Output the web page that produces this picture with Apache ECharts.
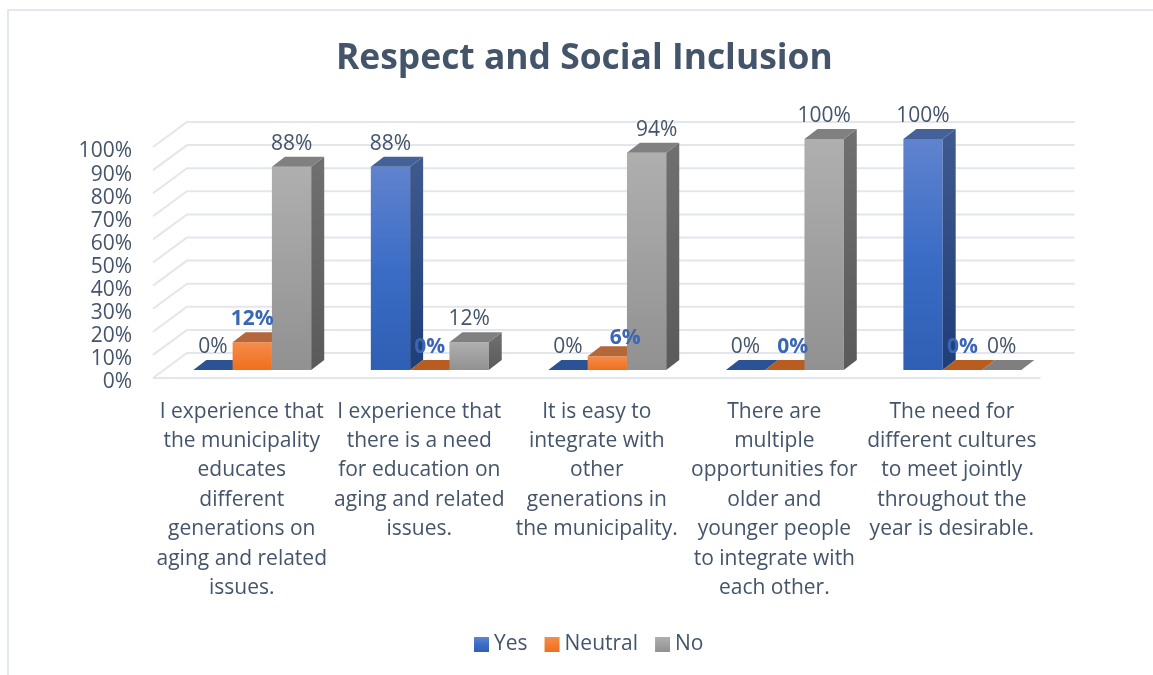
<!DOCTYPE html>
<html><head><meta charset="utf-8">
<style>html,body{margin:0;padding:0;background:#fff}#c{width:1153px;height:675px}</style>
<script src="https://cdn.jsdelivr.net/npm/echarts@6/dist/echarts.min.js"></script>
</head><body><div id="c"></div>
<script>
const categories = [
  "I experience that\nthe municipality\neducates\ndifferent\ngenerations on\naging and related\nissues.",
  "I experience that\nthere is a need\nfor education on\naging and related\nissues.",
  "It is easy to\nintegrate with\nother\ngenerations in\nthe municipality.",
  "There are\nmultiple\nopportunities for\nolder and\nyounger people\nto integrate with\neach other.",
  "The need for\ndifferent cultures\nto meet jointly\nthroughout the\nyear is desirable."
];
const yes = [0, 88, 0, 0, 100];
const neutral = [12, 0, 6, 0, 0];
const no = [88, 12, 94, 100, 0];
const yTicks = [0,10,20,30,40,50,60,70,80,90,100];

const FONT = '"Open Sans"';
const SLATE = '#44546A';
const BLUE_TXT = '#3A66B4';
// oblique projection constants
const WALL = [34, -25], FLOOR = [10.5, -8], BAR = [13, -10], BAR_RATIO = 39.3/177.5;

function grad(a,b){return {type:'linear',x:0,y:0,x2:0,y2:1,colorStops:[{offset:0,color:a},{offset:1,color:b}]};}
const looks = {
  Yes:{front:{type:'linear',x:0,y:0,x2:0,y2:1,colorStops:[{offset:0,color:'#6083CE'},{offset:.5,color:'#3C6DC6'},{offset:1,color:'#2E5FB4'}]},side:grad('#3F5A8F','#1E3E78'),top:'#44619A',zero:'#2C5296',txt:SLATE,bold:false},
  Neutral:{front:grad('#F58C4C','#EF6F1C'),side:grad('#A85C30','#A85C20'),top:'#B5673C',zero:'#B85C20',txt:BLUE_TXT,bold:true},
  No:{front:grad('#AFAFAF','#919191'),side:grad('#707070','#5A5A5A'),top:'#808080',zero:'#7F7F7F',txt:SLATE,bold:false}
};
const labelShift = {Neutral:{2:18,3:8},No:{2:10}};

function renderWall(params, api){
  const v = api.value(0);
  const p = api.coord([0, v]);
  const x0 = params.coordSys.x, x1 = params.coordSys.x + params.coordSys.width, y = p[1];
  const style = {stroke:'#E3E6ED', lineWidth:2, fill:null};
  const kids = [{type:'polyline',shape:{points:[[x0,y],[x0+WALL[0],y+WALL[1]],[x1+WALL[0],y+WALL[1]]]},style}];
  if(v===0) kids.push({type:'line',shape:{x1:x0,y1:y,x2:x1,y2:y},style});
  return {type:'group',children:kids};
}
function makeBar(name, idx){
  const L = looks[name];
  return function(params, api){
    const c = api.value(0), v = api.value(1);
    const w = api.size([1,0])[0]*BAR_RATIO;
    const b = api.coord([c,0]), t = api.coord([c,v]);
    const xl = b[0] + FLOOR[0] + (idx-1.5)*w, xr = xl + w;
    const yb = b[1] + FLOOR[1], yt = t[1] + FLOOR[1];
    const dx = BAR[0], dy = BAR[1];
    const kids = [];
    if(v>0){
      kids.push({type:'rect',shape:{x:xl,y:yt,width:w,height:yb-yt},style:{fill:L.front}});
      kids.push({type:'polygon',shape:{points:[[xr,yt],[xr+dx,yt+dy],[xr+dx,yb+dy],[xr,yb]]},style:{fill:L.side}});
    }
    kids.push({type:'polygon',shape:{points:[[xl,yt],[xr,yt],[xr+dx,yt+dy],[xl+dx,yt+dy]]},style:{fill:v>0?L.top:L.zero}});
    const shift = (labelShift[name]||{})[c]||0;
    kids.push({type:'text',z2:100,style:{text:v+'%',x:xl+w/2+shift,y:yt-(shift>15?18:23),align:'center',verticalAlign:'middle',
      fill:L.txt,font:(L.bold?'bold ':'')+'21px '+FONT}});
    return {type:'group',children:kids};
  };
}
function barSeries(name, idx, vals){
  return {name,type:'custom',coordinateSystem:'cartesian2d',renderItem:makeBar(name,idx),
    itemStyle:{color:looks[name].front},
    data:vals.map((v,i)=>[i,v]),encode:{x:0,y:1},clip:false,silent:true};
}
const chart = echarts.init(document.getElementById('c'),null,{renderer:'canvas'});
chart.setOption({
  animation:false,backgroundColor:'#fff',
  title:{text:'Respect and Social Inclusion',left:331,top:36,
    textStyle:{fontFamily:FONT,fontWeight:'bold',fontSize:35.4,color:SLATE}},
  legend:{data:['Yes','Neutral','No'],left:469,top:629,itemWidth:15,itemHeight:15,itemGap:17,icon:'rect',
    textStyle:{fontFamily:FONT,fontSize:21,color:SLATE}},
  grid:{left:153,top:147,width:887.6,height:231,containLabel:false},
  xAxis:{type:'category',data:categories,axisLine:{show:false},axisTick:{show:false},
    axisLabel:{interval:0,margin:19,fontFamily:FONT,fontSize:21,lineHeight:29.4,color:SLATE,align:'center'}},
  yAxis:{type:'value',min:0,max:100,interval:10,splitLine:{show:false},axisLine:{show:false},axisTick:{show:false},
    axisLabel:{margin:21,fontFamily:FONT,fontSize:21,color:SLATE,formatter:'{value}%',verticalAlign:'top',lineHeight:9}},
  graphic:[
    {type:'polyline',silent:true,shape:{points:[[8,675],[8,10],[1153,10]]},style:{stroke:'#E4E8EE',lineWidth:2,fill:null}}
  ],
  series:[
    {type:'custom',name:'wall',coordinateSystem:'cartesian2d',renderItem:renderWall,data:yTicks.map(v=>[v]),encode:{y:0},clip:false,silent:true,z:1},
    barSeries('Yes',0,yes),barSeries('Neutral',1,neutral),barSeries('No',2,no)
  ]
});
</script></body></html>
